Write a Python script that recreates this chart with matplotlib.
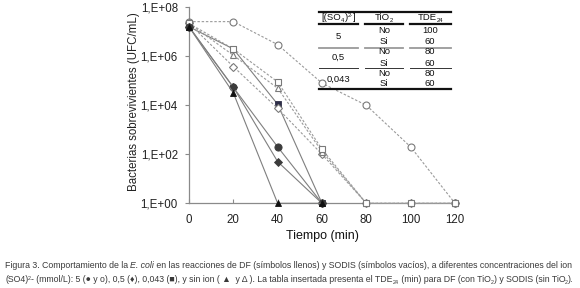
import matplotlib
matplotlib.use("Agg")
import matplotlib.pyplot as plt
from matplotlib.lines import Line2D

# ---------------- data ----------------
time_open = [0, 20, 40, 60, 80, 100, 120]
sodis_5 = [2.6e7, 2.6e7, 3.0e6, 8.0e4, 1.0e4, 2.0e2, 1]          # open circle
sodis_0043 = [2.2e7, 2.0e6, 9.0e4, 1.6e2, 1, 1, 1]               # open square
sodis_none = [2.2e7, 1.1e6, 5.0e4, 1.3e2, 1, 1, 1]               # open triangle
sodis_05 = [2.2e7, 3.8e5, 7.5e3, 1.0e2, 1, 1, 1]                 # open diamond

time_fill = [0, 20, 40, 60]
df_5 = [1.6e7, 5.4e4, 2.0e2, 1]       # filled circle
df_05 = [1.6e7, 5.5e4, 5.0e1, 1]      # filled diamond
df_0043 = [1.6e7, 2.0e6, 1.1e4, 1]    # filled square
df_none = [1.6e7, 3.2e4, 1, 1]        # filled triangle

yticks = [1, 1e2, 1e4, 1e6, 1e8]
ytick_labels = ["1,E+00", "1,E+02", "1,E+04", "1,E+06", "1,E+08"]
xticks = [0, 20, 40, 60, 80, 100, 120]

table_conc = ["5", "0,5", "0,043"]
table_tio2 = ["No", "Si", "No", "Si", "No", "Si"]
table_tde = ["100", "60", "80", "60", "80", "60"]

# ---------------- figure ----------------
W, H = 580, 288
fig = plt.figure(figsize=(W / 100, H / 100), dpi=100)
fig.patch.set_facecolor("white")

AX_L, AX_R, AX_T, AX_B = 189, 455, 7.3, 203.3
ax = fig.add_axes([AX_L / W, 1 - AX_B / H, (AX_R - AX_L) / W, (AX_B - AX_T) / H])

SANS = ["Liberation Sans", "DejaVu Sans"]
NARROW = ["Liberation Sans Narrow", "Liberation Sans", "DejaVu Sans"]

dash_kw = dict(color="#9a9a9a", lw=0.8, linestyle=(0, (2.2, 1.6)), mfc="white",
               mec="#7a7a7a", mew=0.8, zorder=3)
solid_kw = dict(color="#7f7f7f", lw=0.8, linestyle="-", mew=0.6)

ax.plot(time_fill, df_0043, marker="s", ms=4.4, mfc="#2e2e48", mec="#2e2e48",
        zorder=2.6, **solid_kw)

ax.plot(time_open, sodis_5, marker="o", ms=5, **dash_kw)
ax.plot(time_open, sodis_05, marker="D", ms=4.2, **dash_kw)
ax.plot(time_open, sodis_none, marker="^", ms=5, **dash_kw)
ax.plot(time_open, sodis_0043, marker="s", ms=4.6, **dash_kw)

ax.plot(time_fill, df_5, marker="o", ms=5.2, mfc="#3c3c3c", mec="#3c3c3c", zorder=4, **solid_kw)
ax.plot(time_fill, df_05, marker="D", ms=4.4, mfc="#3c3c3c", mec="#3c3c3c", zorder=4, **solid_kw)
ax.plot(time_fill, df_none, marker="^", ms=5, mfc="#111111", mec="#111111", zorder=4, **solid_kw)

ax.set_yscale("log")
ax.set_ylim(1, 1e8)
ax.set_xlim(0, 120)
ax.set_yticks(yticks)
ax.set_yticklabels(ytick_labels)
ax.yaxis.set_minor_locator(matplotlib.ticker.NullLocator())
ax.set_xticks(xticks)
ax.set_xticklabels([str(v) for v in xticks])

for sp in ["top", "right"]:
    ax.spines[sp].set_visible(False)
for sp in ["left", "bottom"]:
    ax.spines[sp].set_color("#8a8a8a")
    ax.spines[sp].set_linewidth(0.9)
    ax.spines[sp].set_zorder(2)
ax.tick_params(axis="y", direction="out", length=3, width=0.8, color="#8a8a8a",
               pad=5, labelsize=8.3, labelcolor="#222222")
ax.tick_params(axis="x", direction="in", length=3, width=0.8, color="#8a8a8a",
               pad=7.5, labelsize=8.3, labelcolor="#222222")
for lab in ax.get_xticklabels() + ax.get_yticklabels():
    lab.set_family(SANS)
for ln in ax.get_lines():
    ln.set_clip_on(False)

ax.set_ylabel("Bacterias sobrevivientes (UFC/mL)", fontsize=8.3, family=SANS, color="#222222")
ax.yaxis.set_label_coords((134 - AX_L) / (AX_R - AX_L), 0.52)
ax.set_xlabel("Tiempo (min)", fontsize=9, family=SANS, color="#111111")
ax.xaxis.set_label_coords(0.5, (AX_B - 236) / (AX_B - AX_T))
ax.xaxis.label.set_va("center")
ax.yaxis.label.set_va("center")

renderer = fig.canvas.get_renderer()


def fx(x):
    return x / W


def fy(y):
    return 1 - y / H


def seg_run(segs, x0, ybase, fs, family, color, draw=True):
    """Draw a run of text segments; returns total width in px."""
    x = x0
    for s, kind in segs:
        size = fs * (0.62 if kind in ("sub", "sup") else 1.0)
        dy = {"sub": 2.2 * fs / 8, "sup": -3.6 * fs / 8}.get(kind, 0)
        t = fig.text(fx(x), fy(ybase + dy), s, fontsize=size, family=family,
                     style="italic" if kind == "it" else "normal", color=color,
                     va="baseline", ha="left")
        w = t.get_window_extent(renderer=renderer).width
        if not draw:
            t.remove()
        x += w
    return x - x0


def seg_center(segs, xc, ybase, fs, family, color):
    w = seg_run(segs, 0, ybase, fs, family, color, draw=False)
    seg_run(segs, xc - w / 2, ybase, fs, family, color)


# ---------------- inset table ----------------
TX0, TX1 = 319.3, 451
cols = [(319.3, 358.3), (365, 403.3), (410, 451)]
col_c = [338.5, 384, 430]
tfs = 6.8
tcol = "#111111"


def hline(y, x0, x1, lw, color):
    fig.add_artist(Line2D([fx(x0), fx(x1)], [fy(y), fy(y)], lw=lw, color=color,
                          transform=fig.transFigure))


hline(12.3, TX0, TX1, 1.6, "#111111")
for c0, c1 in cols:
    hline(24.3, c0, c1, 1.6, "#111111")
    hline(47.7, c0, c1, 1.3, "#9a9a9a")
    hline(68.3, c0, c1, 0.7, "#333333")
hline(89.3, TX0, TX1, 1.6, "#111111")

hb = 20.5
seg_center([("[(SO", "n"), ("4", "sub"), (")", "n"), ("2-", "sup"), ("]", "n")],
           col_c[0], hb, tfs, SANS, tcol)
seg_center([("TiO", "n"), ("2", "sub")], col_c[1], hb, tfs, SANS, tcol)
seg_center([("TDE", "n"), ("24", "sub")], col_c[2], hb, tfs, SANS, tcol)

row_base = [33, 44.5, 54.5, 65.5, 75.5, 86]
group_base = [39, 60, 82]
for i, c in enumerate(table_conc):
    fig.text(fx(col_c[0]), fy(group_base[i]), c, fontsize=tfs, family=SANS,
             color=tcol, ha="center", va="baseline")
for i in range(6):
    fig.text(fx(col_c[1]), fy(row_base[i]), table_tio2[i], fontsize=tfs, family=SANS,
             color=tcol, ha="center", va="baseline")
    fig.text(fx(col_c[2]), fy(row_base[i]), table_tde[i], fontsize=tfs, family=SANS,
             color=tcol, ha="center", va="baseline")

# ---------------- caption ----------------
cap_col = "#3a3a3a"
line1 = [("Figura 3. Comportamiento de la ", "n"), ("E. coli", "it"),
         (" en las reacciones de DF (símbolos llenos) y SODIS (símbolos vacíos), a diferentes concentraciones del ion", "n")]
line2 = [("(SO4)", "n"), ("2", "sup"),
         ("- (mmol/L): 5 (\u25cf y o), 0,5 (\u2666), 0,043 (\u25a0), y sin ion ( \u25b2  y \u0394 ). La tabla insertada presenta el TDE", "n"),
         ("24", "sub"), (" (min) para DF (con TiO", "n"), ("2", "sub"),
         (") y SODIS (sin TiO", "n"), ("2", "sub"), (").", "n")]

for segs, yb, x0, x1 in [(line1, 268.5, 5, 577), (line2, 282.5, 5, 578)]:
    base_fs = 8.0
    w = seg_run(segs, 0, yb, base_fs, NARROW, cap_col, draw=False)
    fs = base_fs * (x1 - x0) / w
    seg_run(segs, x0, yb, fs, NARROW, cap_col)

fig.savefig("out.png", dpi=100, facecolor="white")
